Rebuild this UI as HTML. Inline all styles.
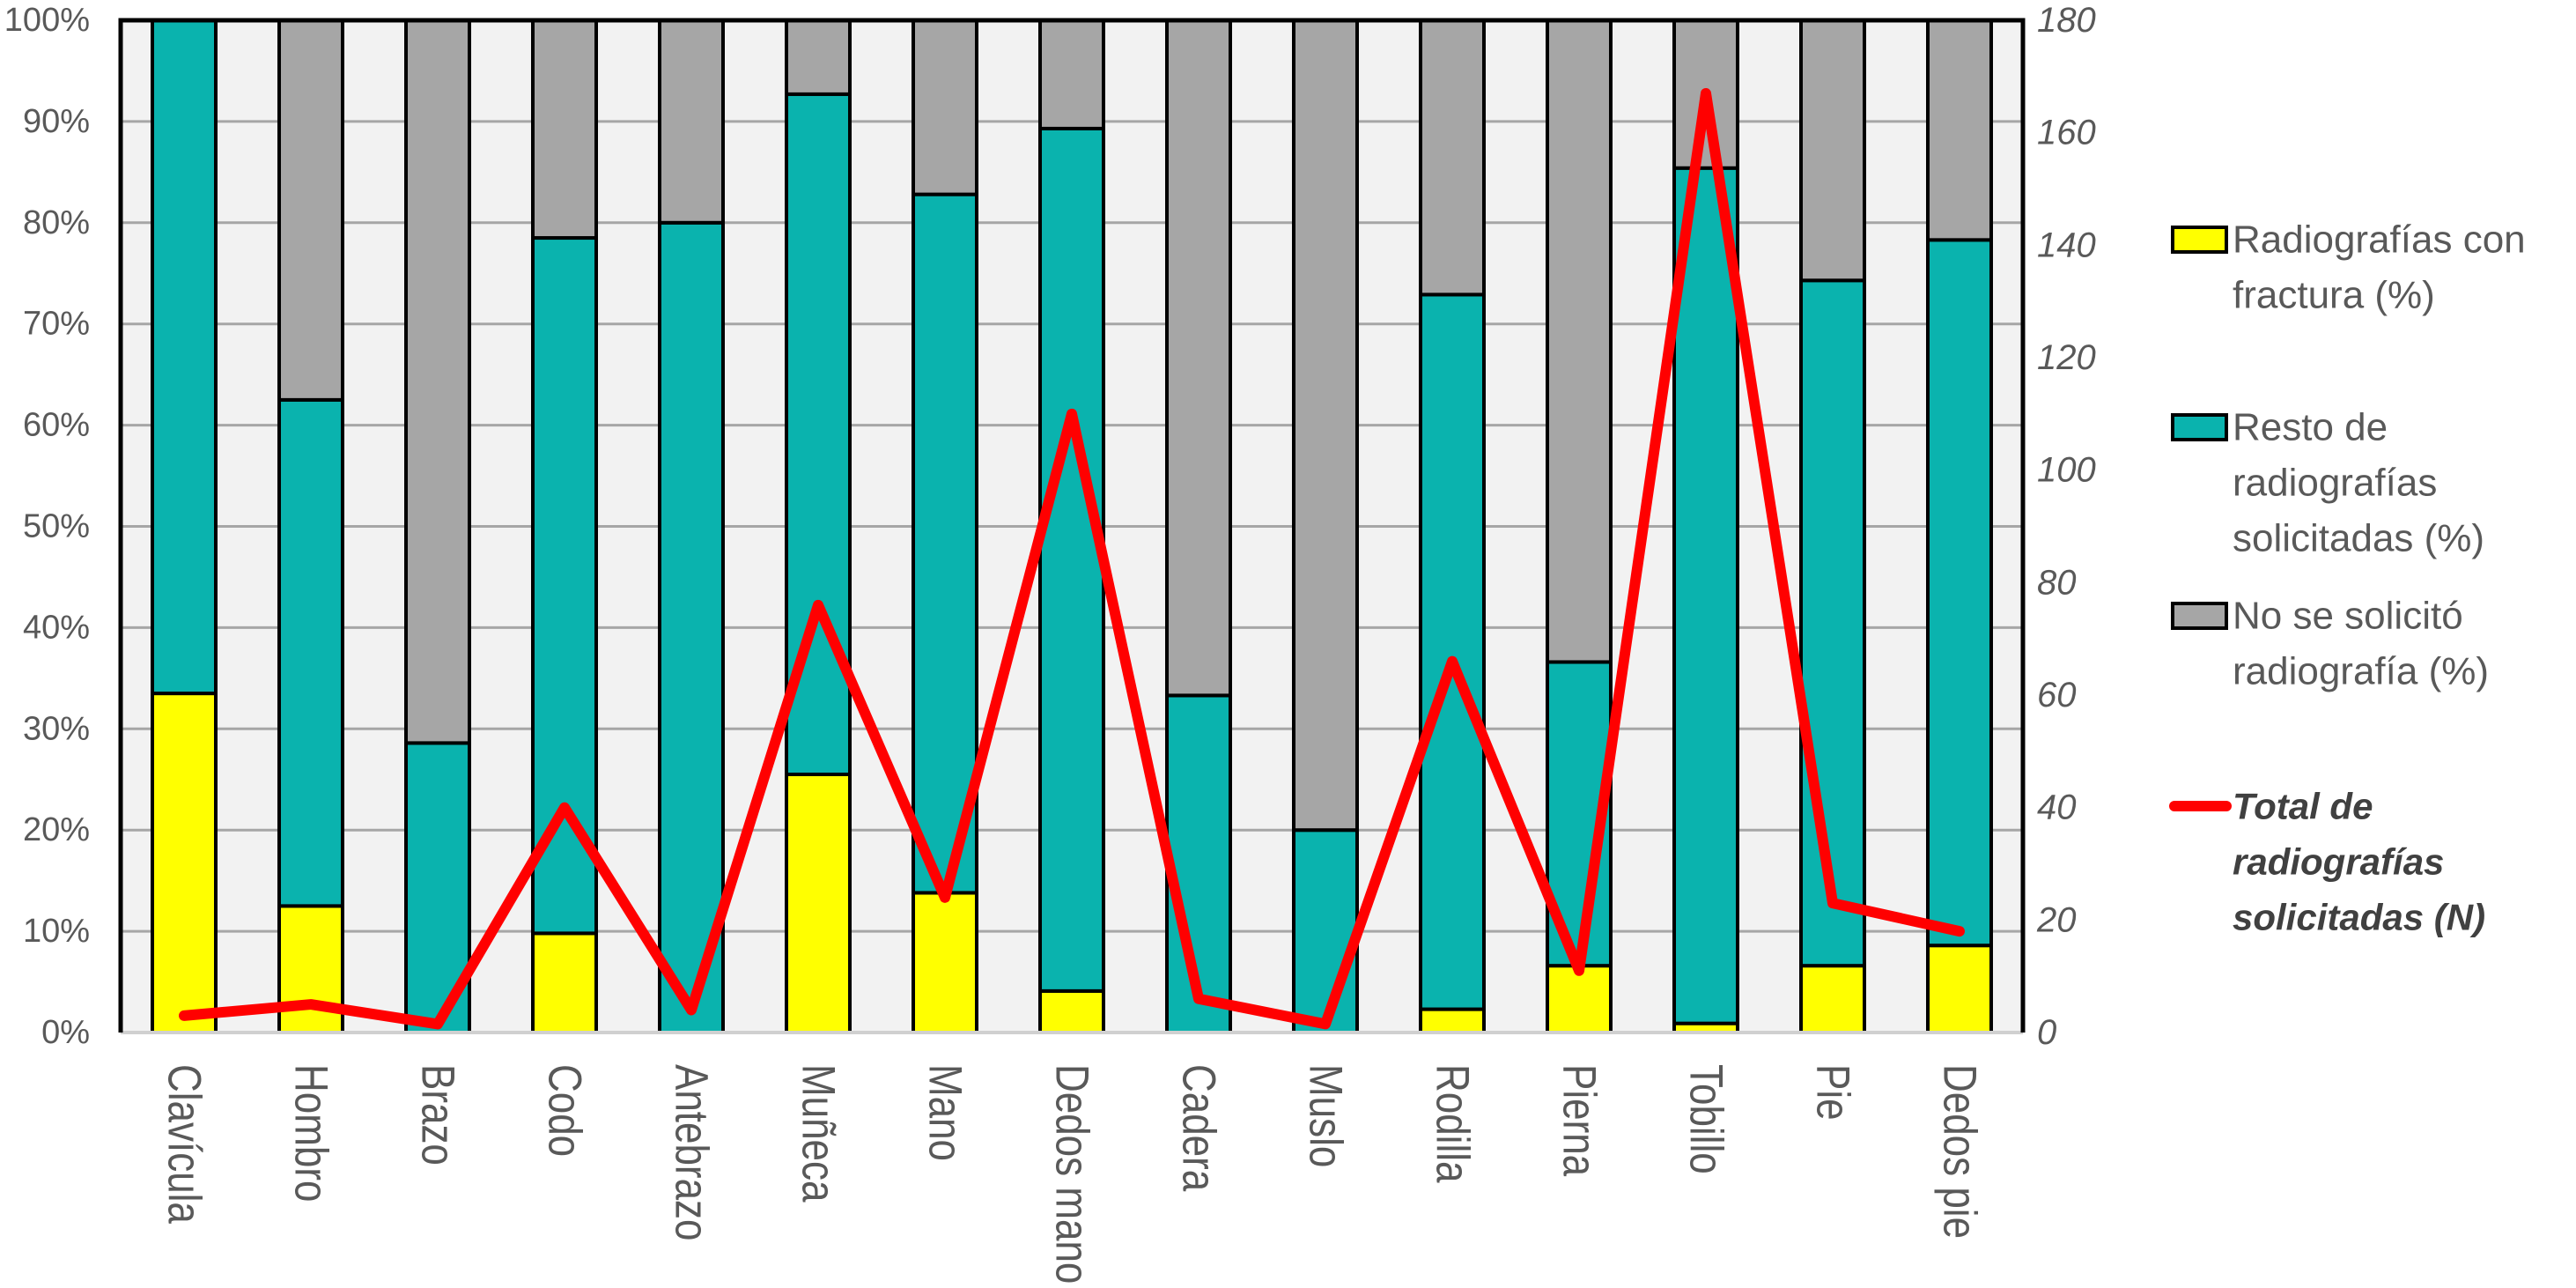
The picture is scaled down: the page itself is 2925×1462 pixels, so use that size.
<!DOCTYPE html>
<html><head><meta charset="utf-8"><style>
html,body{margin:0;padding:0;background:#fff;}
svg{display:block;}
text{font-family:"Liberation Sans",sans-serif;}
</style></head><body>
<svg id="chart" width="2925" height="1462" viewBox="0 0 2925 1462" xmlns="http://www.w3.org/2000/svg">
<g id="plot"></g>
<g id="axes"></g>
<g id="legend"></g>
</svg>
<script>
const categories = ["Clavícula","Hombro","Brazo","Codo","Antebrazo","Muñeca","Mano","Dedos mano","Cadera","Muslo","Rodilla","Pierna","Tobillo","Pie","Dedos pie"];
const fracturePct = [33.5,12.5,0,9.8,0,25.5,13.8,4.1,0,0,2.3,6.6,0.9,6.6,8.6];
const restPct = [66.5,50,28.6,68.7,80,67.2,69,85.2,33.3,20,70.6,30,84.5,67.7,69.7];
const totalN = [3,5,1.5,40,4,76,24,110,6,1.5,66,11,167,23,18];
const leftTicks = [0,10,20,30,40,50,60,70,80,90,100];
const rightTicks = [0,20,40,60,80,100,120,140,160,180];

const NS="http://www.w3.org/2000/svg";
const L=137,R=2297,T=23,B=1172;
const pitch=(R-L)/categories.length, barW=72;
const xC=i=>L+pitch*(i+0.5);
const yP=v=>B-(B-T)*v/100;
const yN=v=>B-(B-T)*v/180;
function mk(tag,attrs,parent){const e=document.createElementNS(NS,tag);for(const k in attrs)e.setAttribute(k,attrs[k]);parent.appendChild(e);return e;}
const plot=document.getElementById('plot'),axes=document.getElementById('axes'),legend=document.getElementById('legend');

let bg=mk('rect',{x:L,y:T,width:R-L,height:B-T,fill:'#f2f2f2'},plot);


leftTicks.forEach(t=>{
  if(t===0||t===100)return;
  const g=mk('line',{x1:L,x2:R,y1:yP(t),y2:yP(t),stroke:'#a6a6a6','stroke-width':3},plot);
  
  
});
categories.forEach((c,i)=>{
  const x=xC(i)-barW/2;
  const f=fracturePct[i],r=restPct[i];
  const segs=[[0,f,'#ffff00','fracture'],[f,f+r,'#0ab3ae','rest'],[f+r,100,'#a6a6a6','not-requested']];
  segs.forEach(s=>{
    if(s[1]-s[0]<=0.01)return;
    const el=mk('rect',{x:x,y:yP(s[1]),width:barW,height:yP(s[0])-yP(s[1]),fill:s[2],stroke:'#000','stroke-width':4},plot);
    
    
  });
});
let bl=mk('line',{x1:L,x2:R,y1:B,y2:B,stroke:'#d0d0d0','stroke-width':4},plot);


let br=mk('path',{d:`M${L},${B} V${T} H${R} V${B}`,fill:'none',stroke:'#000','stroke-width':5},plot);


let pts=totalN.map((v,i)=>xC(i)+','+yN(v)).join(' ');
let ln=mk('polyline',{points:pts,fill:'none',stroke:'#ff0000','stroke-width':12,'stroke-linejoin':'round','stroke-linecap':'round'},plot);



leftTicks.forEach(t=>{
  const tx=mk('text',{x:102,y:yP(t),'text-anchor':'end','dominant-baseline':'central','font-size':38,fill:'#595959'},axes);
  tx.textContent=t+'%';
  
  
});
rightTicks.forEach(t=>{
  const tx=mk('text',{x:2313,y:yN(t),'text-anchor':'start','dominant-baseline':'central','font-size':40,'font-style':'italic',fill:'#595959'},axes);
  tx.textContent=t;
  
  
});
categories.forEach((c,i)=>{
  const tx=mk('text',{transform:`translate(${xC(i)},1208) rotate(90) scale(1,1.2)`,'text-anchor':'start','dominant-baseline':'central','font-size':44,fill:'#595959'},axes);
  tx.textContent=c;
  
  
});

const legendItems=[
  {y:272,lines:["Radiografías con","fractura (%)"],fill:'#ffff00',name:'legend-fracture'},
  {y:485,lines:["Resto de","radiografías","solicitadas (%)"],fill:'#0ab3ae',name:'legend-rest'},
  {y:699,lines:["No se solicitó","radiografía (%)"],fill:'#a6a6a6',name:'legend-not-requested'},
  {y:915,lines:["Total de","radiografías","solicitadas (N)"],line:true,name:'legend-total'}
];
legendItems.forEach(it=>{
  const g=mk('g',{},legend);
  
  
  if(it.line){mk('line',{x1:2469,x2:2528,y1:it.y,y2:it.y,stroke:'#ff0000','stroke-width':12,'stroke-linecap':'round'},g);}
  else{mk('rect',{x:2467,y:it.y-14,width:61,height:28,fill:it.fill,stroke:'#000','stroke-width':4},g);}
  it.lines.forEach((s,k)=>{
    const t=mk('text',{x:2535,y:it.y+k*63,'dominant-baseline':'central','font-size':it.line?42:44,fill:it.line?'#404040':'#595959','font-style':it.line?'italic':'normal','font-weight':it.line?'bold':'normal'},g);
    t.textContent=s;
  });
});
</script>
</body></html>
